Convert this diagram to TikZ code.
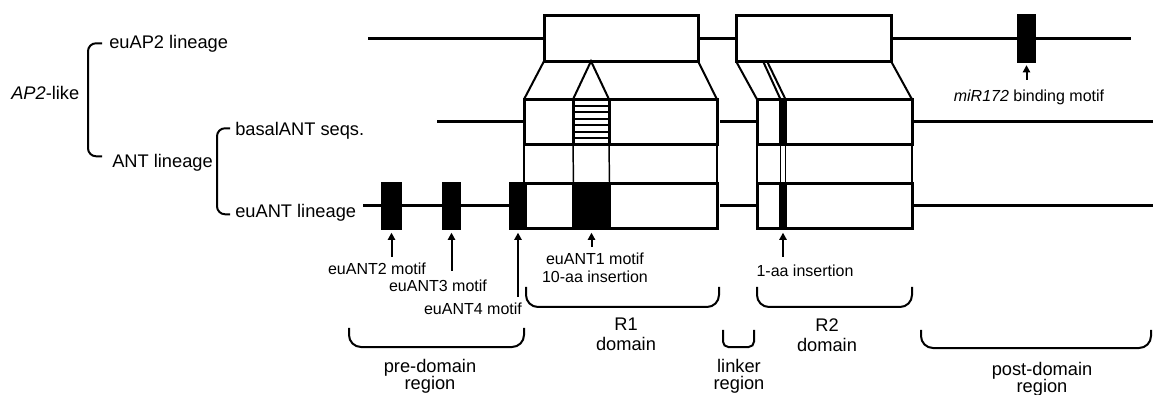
\documentclass[tikz,border=0pt]{standalone}
\usepackage{fontspec}
\setmainfont{Liberation Sans}
\usetikzlibrary{arrows.meta}
\usetikzlibrary{calc}

\tikzset{
  backbone/.style={line width=2.25pt},
  dombox/.style={draw, line width=2.25pt, fill=white, inner sep=0pt, outer sep=0pt, minimum height=34pt},
  motifbox/.style={draw, line width=2.25pt, fill=black, inner sep=0pt, outer sep=0pt, minimum height=34pt},
  link/.style={line width=1.5pt},
  drop/.style={line width=1.1pt},
  stripe/.style={line width=1.2pt},
  pointer/.style={line width=1.5pt, shorten >=3pt, -{Triangle[length=5.5pt,width=5.5pt]}},
  brace/.style={line width=1.5pt, rounded corners=9pt},
  tree/.style={line width=1.5pt, rounded corners=6pt},
  bigtxt/.style={inner sep=0pt, font=\fontsize{13.7}{15}\selectfont, align=center},
  regtxt/.style={inner sep=0pt, font=\fontsize{13.7}{13}\selectfont, align=center},
  smalltxt/.style={inner sep=0pt, font=\fontsize{12}{13.5}\selectfont, align=center},
}

\begin{document}
\begin{tikzpicture}[x=0.75pt,y=0.75pt,yscale=-1,xscale=1]
\useasboundingbox (0,0) rectangle (1153,395);

% Lineage tree
\node[bigtxt, anchor=base west] (ap2like) at (11,100) {\textit{AP2}-like};
\node[bigtxt, anchor=base west] (euap) at (109,49) {euAP2 lineage};
\node[bigtxt, anchor=base west] (antlin) at (112,168) {ANT lineage};
\node[bigtxt, anchor=base west] (basal) at (235,136) {basalANT seqs.};
\node[bigtxt, anchor=base west] (euant) at (235,218) {euANT lineage};
\draw[tree] ($(euap.west)+(-7,-1)$) -- ++(-14,0) -- ++(0,113) -- ++(14,0);
\draw[tree] ($(basal.west)+(-5,-3)$) -- ++(-13,0) -- ++(0,86) -- ++(13,0);

% Backbone ends
\coordinate (apL) at (368,38.5);
\coordinate (apR) at (1131,38.5);
\coordinate (baL) at (437,122);
\coordinate (baR) at (1153,122);
\coordinate (euL) at (363,206);
\coordinate (euR) at (1153,206);

% euAP2 row
\node[dombox, minimum width=115.5pt] (apR1) at (621,38.5) {};
\node[dombox, minimum width=116.25pt] (apR2) at (813.5,38.5) {};
\node[motifbox, minimum width=12pt] (mir) at (1026.5,38.5) {};
\draw[backbone] (apL) -- (apR1.west);
\draw[backbone] (apR1.east) -- (apR2.west);
\draw[backbone] (apR2.east) -- (mir.west);
\draw[backbone] (mir.east) -- (apR);

% basalANT row
\draw[backbone] (baL) -- (620,122);
\draw[backbone] (720,122) -- (760,122);
\draw[backbone] (900,122) -- (baR);
\node[dombox, minimum width=144.75pt] (baR1) at (620.5,122) {};
\node[dombox, minimum width=27pt] (hatch) at (591,122) {};
\foreach \k in {1,...,6}
  \draw[stripe] ($(hatch.north west)!\k/7!(hatch.south west)$) -- ($(hatch.north east)!\k/7!(hatch.south east)$);
\node[dombox, minimum width=116.25pt] (baR2) at (834.5,122) {};
\node[motifbox, minimum width=3.75pt] (ins2b) at (783,122) {};

% euANT row
\draw[backbone] (euL) -- (620,206);
\draw[backbone] (720,206) -- (760,206);
\draw[backbone] (900,206) -- (euR);
\node[motifbox, minimum width=13.5pt] (eu2) at (391.5,206) {};
\node[motifbox, minimum width=12pt] (eu3) at (451.5,206) {};
\node[dombox, minimum width=154.875pt] (euR1) at (613.75,206) {};
\node[motifbox, minimum width=11.25pt] (eu4) at (518,206) {};
\node[motifbox, minimum width=27pt] (eu1) at (591.5,206) {};
\node[dombox, minimum width=116.25pt] (euR2) at (834.5,206) {};
\node[motifbox, minimum width=3.75pt] (ins2e) at (783,206) {};

% R1 zoom lines
\draw[link] (apR1.south west) -- (baR1.north west);
\draw[link] (apR1.south east) -- (baR1.north east);
\draw[link] (hatch.north west) -- (hatch.north |- apR1.south) -- (hatch.north east);
% R2 zoom lines
\draw[link] (apR2.south west) -- (baR2.north west);
\draw[link] (apR2.south east) -- (baR2.north east);
\draw[link] ([xshift=20.25pt]apR2.south west) -- (ins2b.north west);
\draw[link] ([xshift=23.25pt]apR2.south west) -- (ins2b.north east);

% basalANT to euANT
\draw[drop] (baR1.south west) -- (baR1.south west |- euR1.north);
\draw[drop] (hatch.south west) -- (eu1.north west);
\draw[drop] (hatch.south east) -- (eu1.north east);
\draw[drop] (baR1.south east) -- (euR1.north east);
\draw[drop] (baR2.south west) -- (euR2.north west);
\draw[drop] (ins2b.south west) -- (ins2e.north west);
\draw[drop] (ins2b.south east) -- (ins2e.north east);
\draw[drop] (baR2.south east) -- (euR2.north east);

% Motif labels
\node[smalltxt, anchor=north] (mirlbl) at (1029,90) {\textit{miR172} binding motif};
\node[smalltxt, anchor=north] (m2lbl) at (377,263) {euANT2 motif};
\node[smalltxt, anchor=north] (m3lbl) at (438,280) {euANT3 motif};
\node[smalltxt, anchor=north] (m4lbl) at (473,303) {euANT4 motif};
\node[smalltxt, anchor=north] (m1lbl) at (595,253) {euANT1 motif\\10-aa insertion};
\node[smalltxt, anchor=north] (inslbl) at (805,265) {1-aa insertion};
\draw[pointer] (mirlbl.north -| mir.south) ++(0,-10) -- (mir.south);
\draw[pointer] (m2lbl.north -| eu2.south) ++(0,-6) -- (eu2.south);
\draw[pointer] (m3lbl.north -| eu3.south) ++(0,-9) -- (eu3.south);
\draw[pointer] (m4lbl.north -| eu4.south) ++(0,-6) -- (eu4.south);
\draw[pointer] (m1lbl.north -| eu1.south) ++(0,-6) -- (eu1.south);
\draw[pointer] (inslbl.north -| ins2e.south) ++(0,-8) -- (ins2e.south);

% Region braces
\draw[brace] (349,328) -- (349,347) -- (524,347) -- (524,328);
\draw[brace] (526,287) -- (526,307) -- (719,307) -- (719,287);
\draw[brace, rounded corners=4pt] (723,330) -- (723,347) -- (754,347) -- (754,330);
\draw[brace] (757,287) -- (757,307) -- (912,307) -- (912,287);
\draw[brace] (921,330) -- (921,348) -- (1151,348) -- (1151,330);
\node[regtxt, anchor=north] (prelbl) at (430,359) {pre-domain\\region};
\node[bigtxt, anchor=north] (r1lbl) at (626,318) {R1\\domain};
\node[regtxt, anchor=north] (linklbl) at (739,359) {linker\\region};
\node[bigtxt, anchor=north] (r2lbl) at (827,318) {R2\\domain};
\node[regtxt, anchor=north] (postlbl) at (1042,362) {post-domain\\region};

\end{tikzpicture}
\end{document}
